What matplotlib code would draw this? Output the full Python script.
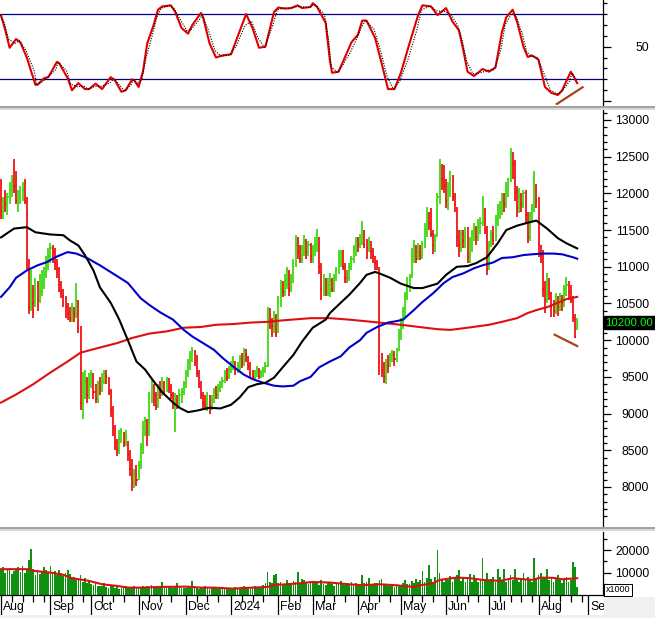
import matplotlib
matplotlib.use('Agg')

import numpy as np
import pandas as pd
import matplotlib.pyplot as plt
from matplotlib.lines import Line2D
from matplotlib.patches import Rectangle
from matplotlib.ticker import FixedLocator

plt.rcParams['font.family'] = ['Liberation Sans', 'DejaVu Sans']

W, H = 655, 618

# bar index of the first session of each month
month_starts = [0, 23, 42, 64, 86, 107, 129, 145, 166, 186, 207, 227, 250, 273]
month_labels = ['Aug', 'Sep', 'Oct', 'Nov', 'Dec', '2024', 'Feb', 'Mar',
                'Apr', 'May', 'Jun', 'Jul', 'Aug', 'Sep']

close = [
    11750, 11900, 11850, 11950, 12050, 12150, 12100, 11900, 11950, 12000,
    12050, 11900, 11700, 10450, 10600, 10500, 10700, 10550, 10650, 10800,
    10900, 11050, 11150, 11250, 11200, 11050, 10950, 10750, 10650, 10600,
    10450, 10350, 10300, 10400, 10350, 10550, 10150, 9150, 9300, 9450,
    9250, 9400, 9550, 9300, 9200, 9400, 9350, 9450, 9550, 9500,
    9300, 9050, 8800, 8600, 8500, 8650, 8750, 8600, 8700, 8450,
    8250, 8050, 8150, 8100, 8300, 8550, 8800, 8900, 8750, 9200,
    9350, 9250, 9100, 9350, 9300, 9400, 9300, 9450, 9350, 9250,
    9150, 9200, 9100, 9250, 9300, 9400, 9550, 9700, 9800, 9850,
    9700, 9550, 9400, 9250, 9150, 9100, 9200, 9100, 9200, 9300,
    9250, 9350, 9400, 9450, 9550, 9500, 9600, 9650, 9700, 9600,
    9650, 9750, 9700, 9850, 9800, 9650, 9550, 9500, 9550, 9600,
    9500, 9550, 9600, 9650, 10350, 10250, 10200, 10300, 10100, 10500,
    10700, 10650, 10800, 10950, 10700, 10850, 11000, 11300, 11200, 11100,
    11250, 11350, 11200, 11300, 11150, 11250, 11300, 11450, 11000, 10700,
    10800, 10650, 10750, 10800, 10700, 10850, 10950, 11100, 11200, 11000,
    10850, 10850, 11000, 11100, 11250, 11350, 11300, 11400, 11550, 11300,
    11250, 11350, 11200, 11150, 11050, 11000, 9700, 9600, 9500, 9700,
    9650, 9750, 9800, 9750, 9850, 10050, 10200, 10400, 10600, 10750,
    10850, 11150, 11250, 11100, 11200, 11150, 11250, 11500, 11700, 11600,
    11450, 11300, 11350, 11950, 12350, 12200, 12100, 11900, 12050, 12200,
    11950, 11850, 11400, 11300, 11450, 11350, 11400, 11150, 11300, 11450,
    11500, 11400, 11550, 11600, 11800, 11500, 10950, 11300, 11450, 11400,
    11650, 11700, 11800, 11900, 11850, 12050, 12200, 12450, 12400, 12000,
    11800, 11950, 11850, 12000, 11700, 11400, 11700, 11800, 12150, 11900,
    11300, 11150, 10700, 10550, 10800, 10650, 10450, 10400, 10550, 10450,
    10600, 10500, 10700, 10750, 10650, 10550, 10300, 10050, 10200,
]
high = [
    12200, 11950, 12050, 12000, 12150, 12250, 12470, 12300, 12050, 12100,
    12150, 12200, 11950, 11100, 10950, 10750, 10850, 10800, 10900, 10950,
    11000, 11150, 11250, 11320, 11300, 11250, 11100, 11000, 10800, 10700,
    10600, 10500, 10450, 10500, 10450, 10780, 10550, 10200, 9560, 9600,
    9500, 9550, 9600, 9550, 9400, 9450, 9500, 9550, 9600, 9600,
    9500, 9330, 9100, 8850, 8650, 8780, 8800, 8750, 8780, 8620,
    8500, 8380, 8250, 8300, 8350, 8600, 8900, 8960, 8920, 9300,
    9470, 9400, 9300, 9400, 9450, 9500, 9450, 9500, 9480, 9400,
    9290, 9280, 9250, 9330, 9350, 9450, 9600, 9750, 9850, 9910,
    9870, 9800, 9600, 9450, 9300, 9250, 9290, 9250, 9250, 9350,
    9380, 9400, 9450, 9500, 9600, 9620, 9650, 9720, 9780, 9720,
    9700, 9800, 9830, 9900, 9880, 9780, 9700, 9600, 9600, 9650,
    9620, 9600, 9640, 9700, 10450, 10440, 10300, 10400, 10350, 10600,
    10820, 10800, 10900, 11000, 10950, 10900, 11100, 11430, 11400, 11300,
    11300, 11430, 11380, 11350, 11330, 11300, 11400, 11520, 11400, 11050,
    10900, 10850, 10850, 10910, 10850, 10900, 11000, 11230, 11230, 11230,
    11050, 10950, 11050, 11150, 11300, 11410, 11400, 11450, 11630, 11500,
    11380, 11410, 11350, 11250, 11150, 11090, 11000, 9830, 9700, 9750,
    9800, 9830, 9870, 9850, 9900, 10150, 10300, 10450, 10650, 10860,
    10900, 11250, 11360, 11300, 11320, 11300, 11350, 11600, 11810, 11750,
    11800, 11500, 11450, 12000, 12470, 12400, 12380, 12200, 12150, 12300,
    12250, 12000, 11810, 11500, 11500, 11500, 11540, 11540, 11400, 11500,
    11600, 11550, 11650, 11680, 11970, 11800, 11560, 11350, 11500, 11550,
    11700, 11850, 11900, 12000, 12000, 12150, 12210, 12620, 12560, 12450,
    12100, 12080, 12000, 12050, 12040, 11750, 11750, 11860, 12310, 12130,
    11950, 11300, 11230, 10800, 10910, 10850, 10650, 10550, 10640, 10600,
    10640, 10620, 10750, 10860, 10800, 10750, 10600, 10350, 10300,
]
low = [
    11650, 11650, 11750, 11700, 11850, 11950, 12000, 11850, 11750, 11850,
    11900, 11850, 10950, 10350, 10400, 10300, 10450, 10400, 10500, 10600,
    10700, 10850, 10950, 11050, 11050, 10950, 10850, 10650, 10580, 10450,
    10300, 10280, 10250, 10250, 10250, 10300, 10100, 9050, 8920, 9200,
    9150, 9200, 9350, 9200, 9150, 9150, 9250, 9300, 9400, 9400,
    9250, 8950, 8700, 8500, 8420, 8450, 8600, 8550, 8560, 8350,
    8150, 7950, 7980, 8010, 8100, 8250, 8450, 8700, 8560, 8700,
    9150, 9100, 9050, 9080, 9200, 9240, 9250, 9300, 9280, 9200,
    9060, 8750, 9060, 9080, 9150, 9250, 9350, 9500, 9600, 9700,
    9650, 9500, 9350, 9200, 9060, 9050, 9030, 9000, 9050, 9150,
    9200, 9200, 9300, 9350, 9420, 9450, 9470, 9550, 9600, 9520,
    9550, 9600, 9620, 9650, 9700, 9600, 9480, 9470, 9470, 9500,
    9470, 9480, 9500, 9550, 9640, 10150, 10050, 10100, 10050, 10100,
    10450, 10590, 10600, 10700, 10600, 10650, 10780, 11000, 11100, 11050,
    11050, 11150, 11100, 11150, 11050, 11050, 11150, 11200, 10900, 10550,
    10600, 10600, 10600, 10590, 10650, 10650, 10800, 10900, 11000, 10950,
    10780, 10780, 10800, 10950, 11050, 11150, 11200, 11250, 11300, 11250,
    11100, 11200, 11100, 11050, 10950, 10950, 9530, 9500, 9420, 9400,
    9550, 9640, 9700, 9650, 9700, 9850, 10000, 10150, 10320, 10550,
    10650, 10850, 11050, 11050, 11090, 11090, 11100, 11250, 11400, 11500,
    11400, 11170, 11200, 11400, 11860, 12050, 12000, 11800, 11770, 11950,
    11900, 11750, 11270, 11130, 11200, 11250, 11250, 11050, 11050, 11200,
    11350, 11300, 11350, 11450, 11550, 11450, 10890, 10950, 11270, 11300,
    11350, 11550, 11650, 11700, 11750, 11800, 11950, 12150, 12200, 11900,
    11680, 11730, 11750, 11800, 11600, 11320, 11350, 11600, 11750, 11800,
    11130, 11050, 10590, 10370, 10500, 10550, 10320, 10320, 10350, 10330,
    10400, 10400, 10450, 10600, 10550, 10500, 10250, 10030, 10140,
]

# volume in thousands, one list per month
vol_aug23 = [11500, 12500, 10000, 11000, 12000, 9500, 10500, 11800, 12300, 10200, 13000, 9800,
             11200, 15500, 20700, 11500, 9000, 11000, 9500, 10500, 12500, 11000, 9800]
vol_sep = [12800, 9500, 10500, 9000, 11000, 10000, 8500, 9800, 11200, 9200, 7500, 8000, 6500,
           7200, 9000, 6000, 7500, 5500, 6200]
vol_oct = [5000, 4500, 5500, 4000, 3800, 4200, 5200, 3500, 3000, 3800, 4500, 3200, 3600, 2800,
           3000, 3500, 4200, 3300, 3100, 2900, 3800, 3400]
vol_nov = [3500, 3000, 4000, 3200, 3800, 3300, 4500, 3500, 3000, 4200, 3600, 5800, 3100, 2900,
           3400, 4000, 3200, 3500, 5500, 3800, 3300, 3000]
vol_dec = [3200, 3500, 4000, 6200, 3800, 3300, 2800, 3000, 3600, 4100, 3200, 2700, 3000, 3500,
           2900, 2600, 3100, 3400, 2800, 3000, 3300]
vol_jan = [2800, 3200, 3600, 3000, 2700, 3500, 4000, 3300, 3000, 2800, 3500, 3800, 3200, 3000,
           3600, 4500, 5200, 10300, 6000, 5500, 8800, 9300]
vol_feb = [5500, 6000, 5000, 4800, 6500, 5200, 4500, 6200, 5800, 10300, 5000, 7200, 6500, 5200,
           4800, 6000]
vol_mar = [5500, 6000, 5200, 4500, 6800, 5000, 4300, 5500, 6000, 4800, 4200, 5300, 4800, 6200,
           5500, 4500, 5000, 4300, 5800, 4600, 5200]
vol_apr = [4500, 5000, 8800, 5200, 6000, 7500, 4800, 4500, 5200, 5500, 6500, 7000, 5000, 4600,
           4000, 3800, 4400, 3500, 4200, 3900]
vol_may = [4500, 5500, 6500, 5000, 4800, 6200, 5500, 7000, 5800, 6500, 10800, 6000, 7500, 13300,
           7000, 6000, 8000, 20200, 10000, 6500, 5800]
vol_jun = [7000, 6500, 8500, 6000, 7500, 9000, 11000, 6200, 8000, 5800, 7500, 9200, 6000, 8800,
           6500, 6000, 7000, 16400, 7000, 9800]
vol_jul = [6500, 7000, 8000, 6000, 11500, 8000, 6500, 11800, 6000, 7500, 9000, 6500, 11500, 7500,
           6000, 7000, 10000, 6500, 8000, 7000, 6000, 16300, 7500]
vol_aug24 = [9000, 10000, 8000, 7500, 11500, 6500, 8000, 6000, 7500, 9000, 6500, 5500, 7000,
             8000, 6000, 6500, 14800, 12400, 3500]

vol_ma_idx = [0, 13, 15, 23, 29, 33, 41, 47, 54, 59, 65, 74, 86, 93, 99, 108, 117, 124, 127, 133,
              139, 145, 153, 162, 168, 176, 184, 192, 195, 201, 204, 212, 218, 224, 232, 238,
              243, 247, 251, 257, 261, 268]
vol_ma = [11500, 11500, 10760, 10000, 8970, 7480, 6280, 4780, 4040, 3290, 3290, 3590, 3740, 3290,
          3290, 2840, 3290, 3590, 4480, 4780, 5230, 5830, 5530, 4780, 4330, 4780, 4330, 3590,
          4330, 5230, 6730, 7770, 7480, 6730, 6280, 7480, 7030, 6730, 7770, 7620, 7030, 7480]

# moving averages (bar index, value)
ma_black_idx = [0, 6, 12, 16, 23, 29, 32, 36, 39, 43, 46, 51, 54, 55, 59, 63, 67, 71, 75, 80, 83,
                87, 91, 97, 102, 107, 111, 115, 119, 123, 127, 131, 136, 140, 145, 151, 153, 158,
                162, 167, 170, 174, 176, 181, 186, 192, 196, 203, 207, 212, 217, 221, 226, 231,
                235, 240, 245, 249, 254, 259, 263, 268]
ma_black = [11400, 11520, 11540, 11470, 11440, 11430, 11360, 11290, 11160, 10950, 10720, 10510,
            10340, 10280, 10000, 9710, 9600, 9440, 9290, 9150, 9080, 9020, 9040, 9080, 9070,
            9120, 9220, 9360, 9400, 9420, 9490, 9630, 9800, 9980, 10170, 10280, 10370, 10510,
            10620, 10780, 10890, 10930, 10910, 10850, 10770, 10710, 10710, 10770, 10890, 11000,
            11010, 11050, 11130, 11320, 11500, 11560, 11600, 11630, 11520, 11390, 11320, 11250]
ma_blue_idx = [0, 4, 7, 12, 17, 21, 26, 31, 35, 40, 46, 52, 59, 65, 69, 74, 80, 85, 89, 94, 99,
               103, 108, 113, 117, 122, 127, 131, 136, 139, 144, 148, 153, 158, 162, 167, 170,
               175, 180, 184, 187, 192, 196, 201, 206, 210, 215, 220, 224, 229, 233, 238, 243,
               247, 252, 257, 261, 266, 268]
ma_blue = [10590, 10720, 10850, 10950, 11020, 11060, 11140, 11200, 11180, 11120, 11020, 10910,
           10780, 10570, 10480, 10380, 10280, 10140, 10050, 9960, 9870, 9760, 9640, 9530, 9470,
           9420, 9380, 9370, 9380, 9440, 9500, 9630, 9710, 9780, 9900, 10000, 10100, 10180,
           10240, 10260, 10280, 10410, 10520, 10640, 10780, 10860, 10910, 10980, 11020, 11060,
           11120, 11130, 11160, 11170, 11180, 11180, 11170, 11130, 11110]
ma_red_idx = [0, 7, 15, 23, 31, 37, 46, 54, 61, 69, 77, 85, 93, 100, 108, 116, 124, 131, 144, 153,
              162, 176, 186, 203, 209, 217, 227, 233, 240, 245, 249, 254, 259, 263, 268]
ma_red = [9150, 9260, 9400, 9560, 9710, 9830, 9900, 9960, 10030, 10090, 10120, 10170, 10180,
          10210, 10220, 10240, 10250, 10270, 10300, 10300, 10280, 10240, 10210, 10150, 10140,
          10170, 10210, 10250, 10300, 10370, 10410, 10450, 10510, 10560, 10590]

# stochastic %K
stoch_idx = [0, 2, 4, 7, 9, 12, 16, 17, 20, 22, 26, 27, 31, 33, 36, 39, 41, 44, 47, 51, 53, 56,
             58, 61, 62, 64, 66, 68, 71, 73, 75, 79, 81, 84, 87, 89, 93, 94, 97, 100, 103, 107,
             110, 114, 117, 120, 123, 124, 127, 129, 132, 135, 138, 140, 144, 145, 147, 151,
             153, 154, 157, 159, 163, 166, 168, 170, 174, 177, 180, 183, 186, 190, 194, 196,
             200, 203, 207, 210, 213, 215, 217, 220, 224, 227, 230, 233, 235, 238, 240, 243,
             245, 247, 250, 253, 256, 259, 261, 265, 266, 268]
stoch_k = [79, 65, 49, 57, 54, 40, 15, 15, 21, 22, 36, 35, 21, 10, 16.5, 11, 11, 16, 11, 22, 19,
           8.5, 10, 20, 19, 13, 27, 53, 70, 84, 87, 88, 82, 67, 62, 70, 81, 77, 53, 40, 42, 43,
           59, 80, 67, 49, 50, 58, 82, 86, 85, 85.5, 88, 85.5, 86.5, 90, 86.5, 72, 37, 26, 27,
           36, 54, 61, 74, 74, 58, 35, 11, 11, 26, 53, 79, 88, 87, 79, 85.5, 73, 65, 47, 27, 23,
           29.5, 27, 31, 63.5, 77, 84, 73, 50, 40.5, 42, 38, 13, 7.5, 5.6, 10, 27, 24, 16.5]

# hand-drawn divergence lines
price_trend_idx = [257.5, 268]
price_trend_val = [10075, 9920]
stoch_trend_idx = [258.5, 270.5]
stoch_trend_val = [-2.7, 12.7]

last_price = 10200


def px_rect(x0, y0, x1, y1):
    return [x0 / W, 1 - y1 / H, (x1 - x0) / W, (y1 - y0) / H]


def style_right_axis(ax, major, labels, minor):
    ax.yaxis.tick_right()
    ax.yaxis.set_major_locator(FixedLocator(major))
    ax.yaxis.set_minor_locator(FixedLocator(minor))
    ax.set_yticklabels(labels)
    ax.tick_params(axis='y', which='major', length=5.8, width=0.9, pad=27.5,
                   labelsize=8.8, colors='black')
    ax.tick_params(axis='y', which='minor', length=2.8, width=0.9)
    for t in ax.get_yticklabels():
        t.set_horizontalalignment('right')


def main():
    fig = plt.figure(figsize=(W / 100, H / 100), dpi=100)
    ax_st = fig.add_axes(px_rect(0, 0, 603, 105))
    ax_pr = fig.add_axes(px_rect(0, 110, 603, 527))
    ax_vol = fig.add_axes(px_rect(0, 532, 603, 595))

    for ax in (ax_st, ax_pr, ax_vol):
        ax.set_xlim(-0.47, 280)
        for s in ('left', 'top', 'bottom'):
            ax.spines[s].set_visible(False)
        ax.spines['right'].set_linewidth(0.9)
        ax.tick_params(axis='x', which='both', bottom=False, labelbottom=False)

    n = len(close)
    idx = np.arange(n)
    c = np.array(close)
    prev = np.concatenate([[c[0] + 1], c[:-1]])
    colors = np.where(c > prev, '#2fd600', np.where(c < prev, '#ee0000', '#8a7a10'))

    # --- stochastic pane
    k = pd.Series(stoch_k, index=stoch_idx)
    d = k.rolling(2, min_periods=1).mean()
    ax_st.axhline(80, color='#000080', lw=0.9)
    ax_st.axhline(20, color='#000080', lw=0.9)
    ax_st.plot(k.index, k.values, color='#e00000', lw=1.5, zorder=3)
    ax_st.plot(np.array(d.index) - 0.5, d.values, color='black', lw=0.8,
               linestyle=(0, (1, 1.3)), zorder=4)
    ax_st.plot(stoch_trend_idx, stoch_trend_val, color='#a84418', lw=1.6, zorder=5)
    ax_st.set_ylim(-3.6, 92.9)
    style_right_axis(ax_st, [0, 50], ['', '50'], list(range(10, 100, 10)))

    # --- price pane
    ax_pr.vlines(idx, low, high, colors=colors, lw=1.2, zorder=2)
    ax_pr.hlines(close, idx, idx + 0.5, colors=colors, lw=1.1, zorder=2)
    ax_pr.plot(ma_red_idx, ma_red, color='#dd1010', lw=1.5, zorder=3)
    ax_pr.plot(ma_blue_idx, ma_blue, color='#0000c8', lw=1.5, zorder=3)
    ax_pr.plot(ma_black_idx, ma_black, color='black', lw=1.5, zorder=3)
    ax_pr.plot(price_trend_idx, price_trend_val, color='#a84418', lw=1.6, zorder=4)
    ax_pr.set_ylim(7455, 13136)
    ticks = list(range(8000, 13001, 500))
    style_right_axis(ax_pr, ticks, [str(t) for t in ticks],
                     [v for v in range(7500, 13101, 100) if v % 500])
    ax_pr.annotate(f'{last_price:.2f}', xy=(1, last_price), xycoords=('axes fraction', 'data'),
                   xytext=(1.8, 2), textcoords='offset points', ha='left', va='center',
                   fontsize=8.2, color='#00ff00', annotation_clip=False,
                   bbox=dict(boxstyle='square,pad=0.15', fc='black', ec='black'))

    # --- volume pane
    volume = (vol_aug23 + vol_sep + vol_oct + vol_nov + vol_dec + vol_jan + vol_feb
              + vol_mar + vol_apr + vol_may + vol_jun + vol_jul + vol_aug24)
    ax_vol.bar(idx, volume, width=0.8, color='#109010', linewidth=0, zorder=2)
    ax_vol.plot(vol_ma_idx, vol_ma, color='#dd1010', lw=1.5, zorder=3)
    ax_vol.set_ylim(0, 28070)
    style_right_axis(ax_vol, [10000, 20000], ['10000', '20000'], [0, 5000, 15000, 25000])

    ax_vol.spines['bottom'].set_visible(True)
    ax_vol.spines['bottom'].set_linewidth(0.9)
    ax_vol.xaxis.set_major_locator(FixedLocator(month_starts))
    minor = []
    for a, b in zip(month_starts[:-1], month_starts[1:]):
        minor += [m for m in range(a + 5, b - 2, 5)]
    ax_vol.xaxis.set_minor_locator(FixedLocator(minor))
    ax_vol.tick_params(axis='x', which='major', bottom=True, length=14.5, width=0.9,
                       direction='out')
    ax_vol.tick_params(axis='x', which='minor', bottom=True, length=5, width=0.9,
                       direction='out')
    for pos, lbl in zip(month_starts, month_labels):
        ax_vol.annotate(lbl, xy=(pos, 0), xycoords=('data', 'axes fraction'),
                        xytext=(1.5, -4.2), textcoords='offset points', ha='left', va='top',
                        fontsize=8.8, annotation_clip=False)

    # pane separators and the grey corner
    for y, col, lw in ((106.8, '#a0a0a0', 1.4), (108.8, '#d8d8d8', 1.4),
                       (528.3, '#a0a0a0', 1.4), (530.3, '#d8d8d8', 1.4)):
        fig.add_artist(Line2D([0, 1], [1 - y / H] * 2, transform=fig.transFigure,
                              color=col, lw=lw, zorder=8))
    fig.add_artist(Rectangle((603.6 / W, 0), (W - 603.6) / W, 21 / H, transform=fig.transFigure,
                             facecolor='#f0f0f0', edgecolor='none', zorder=10))
    fig.add_artist(Rectangle((0, 0), 1, 3 / H, transform=fig.transFigure,
                             facecolor='#f0f0f0', edgecolor='none', zorder=10))
    fig.text(606 / W, 1 - 590 / H, 'x1000', fontsize=6.5, ha='left', va='center', zorder=11,
             bbox=dict(boxstyle='square,pad=0.2', fc='white', ec='black', lw=0.7))

    fig.savefig('out.png', dpi=100, facecolor='white')
    plt.close(fig)


if __name__ == "__main__":
    main()
